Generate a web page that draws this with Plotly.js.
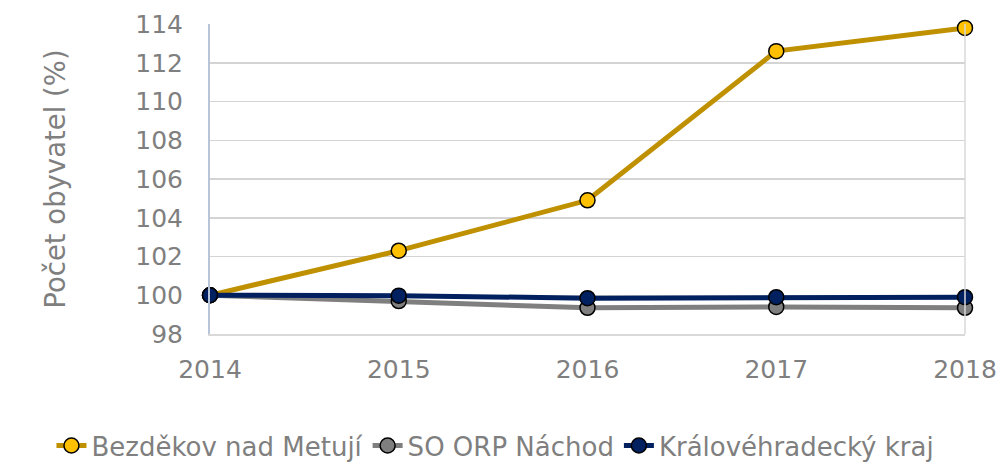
<!DOCTYPE html>
<html><head><meta charset="utf-8">
<script src="https://cdn.plot.ly/plotly-3.0.1.min.js"></script>
<style>html,body{margin:0;padding:0;background:#fff}#chart{width:1000px;height:465px}</style>
</head><body><div id="chart"></div>
<script>
const years = ['2014','2015','2016','2017','2018'];
const bezdekov = [100, 102.3, 104.9, 112.6, 113.8];
const orpNachod = [100, 99.7, 99.35, 99.4, 99.35];
const kraj = [100, 99.98, 99.85, 99.9, 99.9];
const seriesNames = ['Bezděkov nad Metují', 'SO ORP Náchod', 'Královéhradecký kraj'];
const yTicks = [98, 100, 102, 104, 106, 108, 110, 112, 114];

function tr(y, name, line, fill){
  return {x: years, y: y, name: name, type: 'scatter', mode: 'lines+markers', cliponaxis: false,
    line: {color: line, width: 5},
    marker: {size: 15, color: fill, line: {color: '#000', width: 1.5}}};
}
const data = [
  tr(bezdekov, seriesNames[0], '#BF9000', '#FFC000'),
  tr(orpNachod, seriesNames[1], '#7F7F7F', '#7F7F7F'),
  tr(kraj, seriesNames[2], '#002060', '#002060')
];
const layout = {
  width: 1000, height: 465,
  margin: {l: 210, r: 35, t: 24, b: 131, autoexpand: false},
  paper_bgcolor: '#fff', plot_bgcolor: '#fff',
  font: {family: 'DejaVu Sans, Verdana, sans-serif', color: '#7F7F7F', size: 25},
  xaxis: {type: 'category', range: [0, 4], showgrid: false, zeroline: false,
    showline: true, linecolor: '#D9D9D9', linewidth: 2, ticks: '',
    tickfont: {size: 25, color: '#7F7F7F'}, ticklabelstandoff: 12},
  yaxis: {range: [98, 114], tickvals: yTicks, showgrid: true, gridcolor: '#D4D4D4', gridwidth: 1.5,
    zeroline: false, showline: true, linecolor: '#B8C4D8', linewidth: 2, ticks: '',
    tickfont: {size: 25, color: '#7F7F7F'}, ticklabelstandoff: 20,
    title: {text: 'Počet obyvatel (%)', font: {size: 27.5, color: '#7F7F7F'}, standoff: 62}},
  shapes: [{type: 'line', xref: 'paper', yref: 'paper', x0: 1, x1: 1, y0: 0, y1: 1,
    line: {color: '#D9D9D9', width: 1.5}}],
  showlegend: true,
  legend: {orientation: 'h', x: -0.21, xanchor: 'left', y: -0.36, yanchor: 'middle',
    font: {family: 'DejaVu Sans, sans-serif', size: 26, color: '#7F7F7F'},
    itemwidth: 30, tracegroupgap: 0, borderwidth: 0}
};
Plotly.newPlot('chart', data, layout, {displayModeBar: false, staticPlot: true});
</script></body></html>
